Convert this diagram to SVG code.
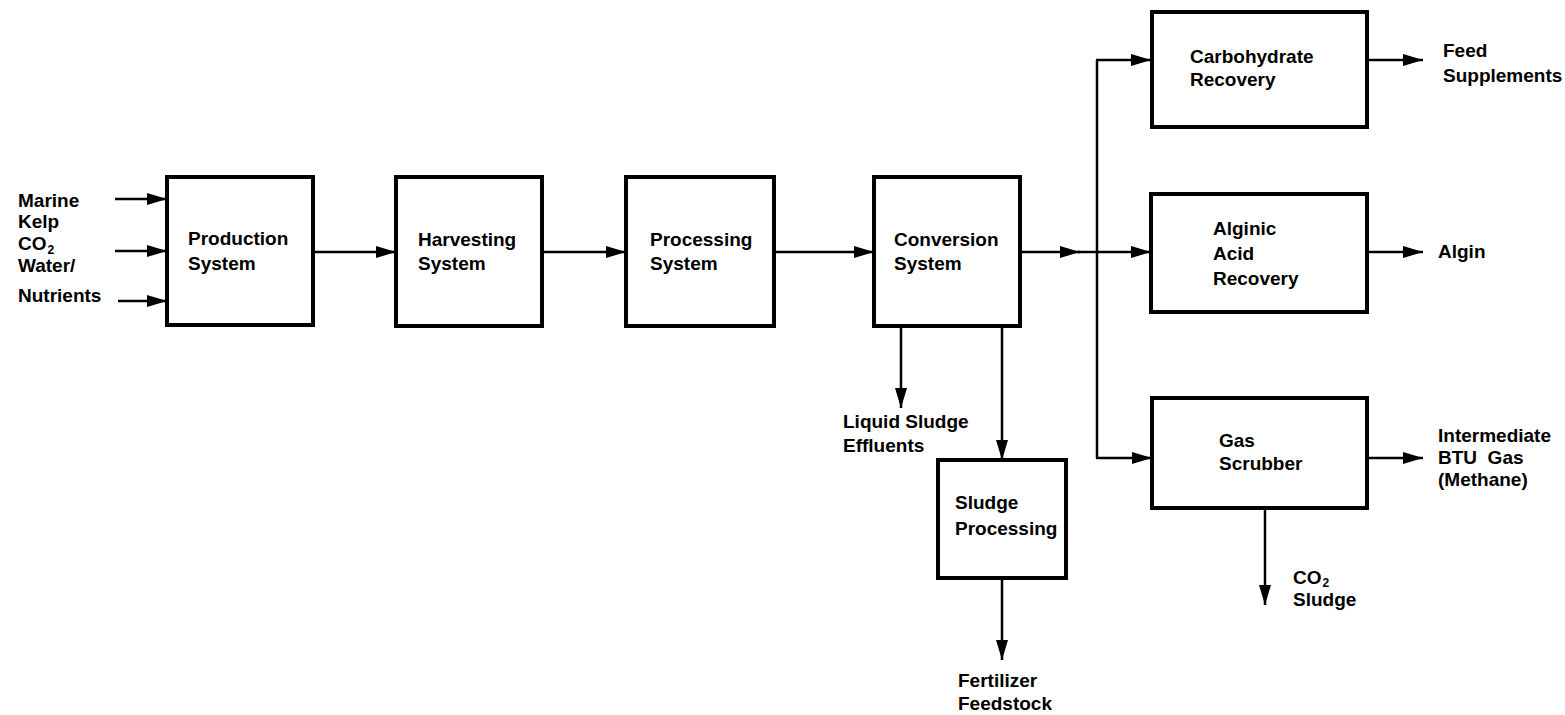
<svg xmlns="http://www.w3.org/2000/svg" width="1565" height="715" viewBox="0 0 1565 715">
<defs>
<marker id="ah" viewBox="0 0 20 12" refX="20" refY="6" markerWidth="20" markerHeight="12" markerUnits="userSpaceOnUse" orient="auto">
<path d="M0,0 L20,6 L0,12 Z" fill="#000"/>
</marker>
<style>
.box{fill:#fff;stroke:#000;stroke-width:4}
.ln{fill:none;stroke:#000;stroke-width:2.5}
.ar{fill:none;stroke:#000;stroke-width:2.5;marker-end:url(#ah)}
text{font-family:"Liberation Sans",Arial,sans-serif;font-weight:bold;font-size:19px;fill:#000}
.sub{font-size:12px}
</style>
</defs>
<rect width="1565" height="715" fill="#fff"/>
<g id="connectors">
<line class="ar" x1="115" y1="199" x2="167" y2="199"/>
<line class="ar" x1="115" y1="251" x2="167" y2="251"/>
<line class="ar" x1="118" y1="301" x2="167" y2="301"/>
<line class="ar" x1="313" y1="252" x2="396" y2="252"/>
<line class="ar" x1="542" y1="252" x2="626" y2="252"/>
<line class="ar" x1="774" y1="252" x2="874" y2="252"/>
<line class="ar" x1="1020" y1="252" x2="1080" y2="252"/>
<line class="ar" x1="1078" y1="252" x2="1151" y2="252"/>
<line class="ln" x1="1097" y1="60" x2="1097" y2="458"/>
<line class="ar" x1="1096" y1="60" x2="1151" y2="60"/>
<line class="ar" x1="1096" y1="458" x2="1152" y2="458"/>
<line class="ar" x1="1367" y1="60" x2="1423" y2="60"/>
<line class="ar" x1="1367" y1="252" x2="1423" y2="252"/>
<line class="ar" x1="1367" y1="458" x2="1423" y2="458"/>
<line class="ar" x1="901" y1="326" x2="901" y2="408"/>
<line class="ar" x1="1002" y1="326" x2="1002" y2="460"/>
<line class="ar" x1="1002" y1="578" x2="1002" y2="660"/>
<line class="ar" x1="1265" y1="508" x2="1265" y2="605"/>
</g>
<g id="inputs">
<text x="18" y="207">Marine</text>
<text x="18" y="228">Kelp</text>
<text x="18" y="250">CO<tspan class="sub" dx="1" dy="4">2</tspan></text>
<text x="18" y="272">Water/</text>
<text x="18" y="302">Nutrients</text>
</g>
<g id="production">
<rect class="box" x="167" y="177" width="146" height="148"/>
<text x="188" y="245">Production</text>
<text x="188" y="270">System</text>
</g>
<g id="harvesting">
<rect class="box" x="396" y="177" width="146" height="149"/>
<text x="418" y="246">Harvesting</text>
<text x="418" y="270">System</text>
</g>
<g id="processing">
<rect class="box" x="626" y="177" width="148" height="149"/>
<text x="650" y="246">Processing</text>
<text x="650" y="270">System</text>
</g>
<g id="conversion">
<rect class="box" x="874" y="177" width="146" height="149"/>
<text x="894" y="246">Conversion</text>
<text x="894" y="270">System</text>
</g>
<g id="liquid-sludge">
<text x="843" y="428">Liquid Sludge</text>
<text x="843" y="452">Effluents</text>
</g>
<g id="sludge-processing">
<rect class="box" x="938" y="460" width="128" height="118"/>
<text x="955" y="509">Sludge</text>
<text x="955" y="535">Processing</text>
</g>
<g id="fertilizer">
<text x="958" y="687">Fertilizer</text>
<text x="958" y="710">Feedstock</text>
</g>
<g id="carbohydrate">
<rect class="box" x="1152" y="12" width="215" height="115"/>
<text x="1190" y="63">Carbohydrate</text>
<text x="1190" y="86">Recovery</text>
</g>
<g id="alginic">
<rect class="box" x="1151" y="194" width="216" height="118"/>
<text x="1213" y="235">Alginic</text>
<text x="1213" y="260">Acid</text>
<text x="1213" y="285">Recovery</text>
</g>
<g id="gas-scrubber">
<rect class="box" x="1152" y="398" width="215" height="110"/>
<text x="1219" y="447">Gas</text>
<text x="1219" y="470">Scrubber</text>
</g>
<g id="outputs">
<text x="1443" y="57">Feed</text>
<text x="1443" y="82">Supplements</text>
<text x="1438" y="258">Algin</text>
<text x="1438" y="442">Intermediate</text>
<text x="1438" y="464" xml:space="preserve">BTU  Gas</text>
<text x="1438" y="486">(Methane)</text>
<text x="1293" y="584">CO<tspan class="sub" dx="1" dy="3">2</tspan></text>
<text x="1293" y="606">Sludge</text>
</g>
</svg>
